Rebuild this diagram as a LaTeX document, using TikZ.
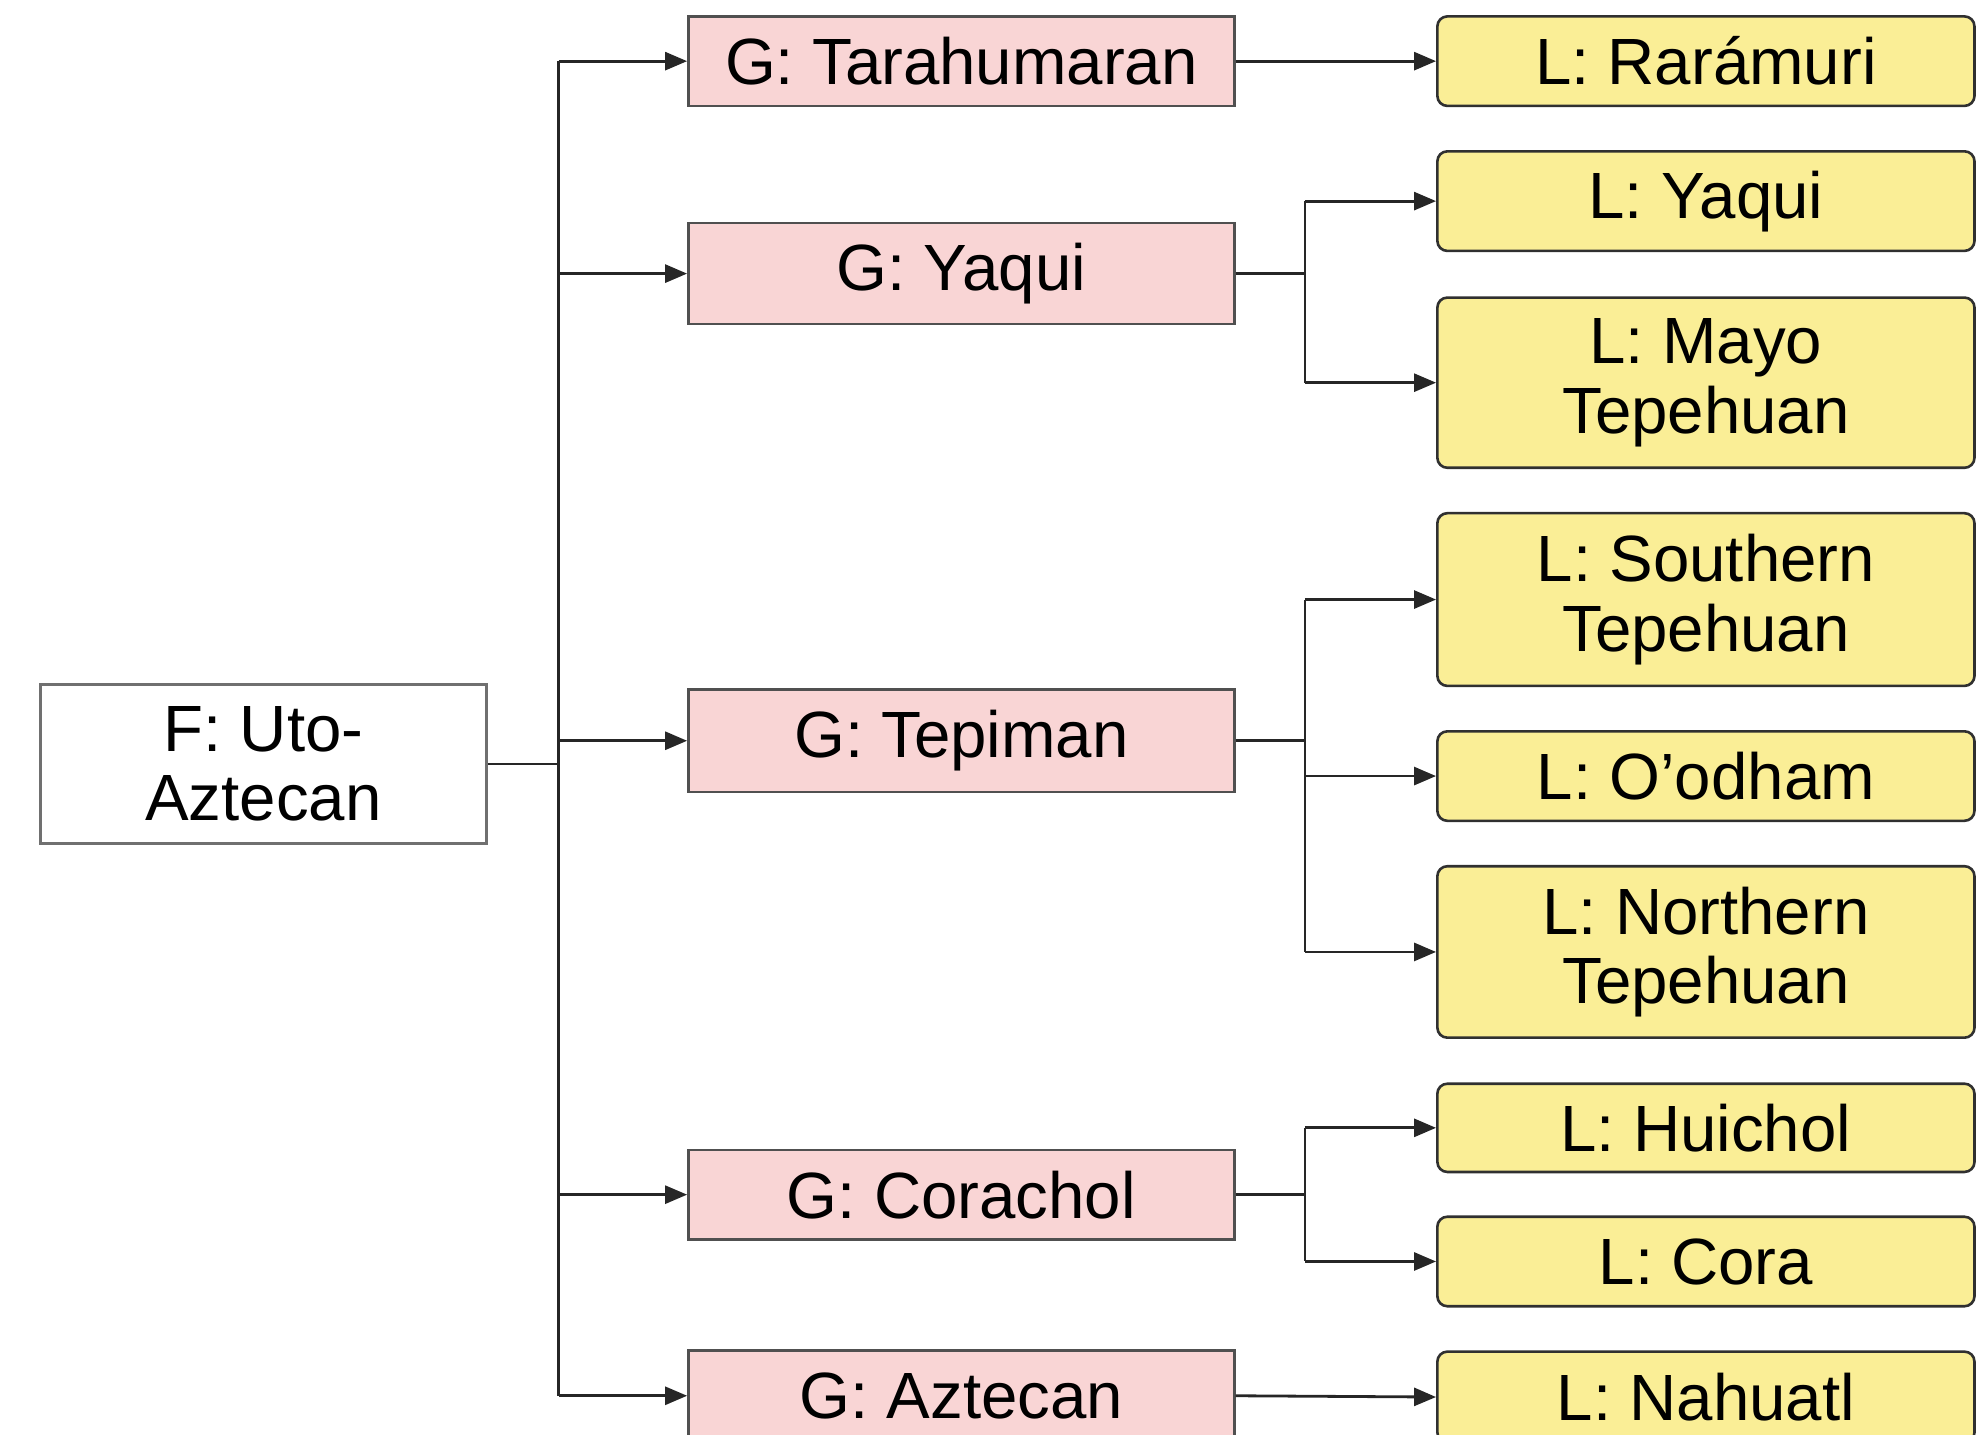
\documentclass[tikz,border=0pt]{standalone}
\usepackage{fontspec}
\setmainfont{Liberation Sans}
\usetikzlibrary{arrows.meta}
\definecolor{pinkc}{HTML}{F9D5D5}
\definecolor{yellowc}{HTML}{FAEE96}
\definecolor{fborder}{HTML}{707070}
\definecolor{gborder}{HTML}{505050}
\definecolor{lborder}{HTML}{303030}
\def\unitpx{0.6304pt}
\begin{document}
\begin{tikzpicture}[x=0.6304pt,y=-0.6304pt,
  every node/.style={font=\fontsize{32.7pt}{34.7pt}\selectfont, align=center, inner sep=0pt},
  fbox/.style={draw=fborder, line width=1.5pt, fill=white, minimum width=354*\unitpx},
  gbox/.style={draw=gborder, line width=1.3pt, fill=pinkc, minimum width=433*\unitpx},
  lbox/.style={draw=lborder, line width=1.3pt, fill=yellowc, rounded corners=5pt, minimum width=426*\unitpx},
  conn/.style={draw=black!85, line width=1.4pt},
  arr/.style={conn, -{Triangle[length=11pt,width=9pt]}}
]
\useasboundingbox (0,0) rectangle (1568,1138);
\clip (0,0) rectangle (1568,1138);
% family
\node[fbox, minimum height=126*\unitpx] (F) at (209,606) {F: Uto-\\Aztecan};
% groups
\node[gbox, minimum height=71*\unitpx] (G1) at (762.5,48.5) {G: Tarahumaran};
\node[gbox, minimum height=80*\unitpx] (G2) at (762.5,217) {G: Yaqui};
\node[gbox, minimum height=81*\unitpx] (G3) at (762.5,587.5) {G: Tepiman};
\node[gbox, minimum height=71*\unitpx] (G4) at (762.5,947.5) {G: Corachol};
\node[gbox, minimum height=72*\unitpx] (G5) at (762.5,1107) {G: Aztecan};
% languages
\node[lbox, minimum height=71*\unitpx] (L1) at (1353,48.5) {L: Rarámuri};
\node[lbox, minimum height=79*\unitpx] (L2) at (1353,159.5) {L: Yaqui};
\node[lbox, minimum height=135*\unitpx] (L3) at (1353,303.5) {L: Mayo\\Tepehuan};
\node[lbox, minimum height=137*\unitpx] (L4) at (1353,475.5) {L: Southern\\Tepehuan};
\node[lbox, minimum height=71*\unitpx] (L5) at (1353,615.5) {L: O’odham};
\node[lbox, minimum height=136*\unitpx] (L6) at (1353,755) {L: Northern\\Tepehuan};
\node[lbox, minimum height=70*\unitpx] (L7) at (1353,894.5) {L: Huichol};
\node[lbox, minimum height=71*\unitpx] (L8) at (1353,1000.5) {L: Cora};
\node[lbox, minimum height=72*\unitpx] (L9) at (1353,1108) {L: Nahuatl};
% branch points
\coordinate (T) at (443,606);
\coordinate (B2) at (1035,217);
\coordinate (B3) at (1035,587.5);
\coordinate (B4) at (1035,947.5);
% family trunk
\draw[conn] (F.east) -- (T);
\draw[conn] (T |- G1.west) -- (T |- G5.west);
\foreach \g in {G1,G2,G3,G4,G5}
  \draw[arr] (T |- \g.west) -- (\g.west);
% level two
\draw[arr] (G1.east) -- (L1.west);
\draw[arr] (G5.east) -- (L9.west);
\draw[conn] (G2.east) -- (B2);
\draw[conn] (B2 |- L2.west) -- (B2 |- L3.west);
\foreach \l in {L2,L3} \draw[arr] (B2 |- \l.west) -- (\l.west);
\draw[conn] (G3.east) -- (B3);
\draw[conn] (B3 |- L4.west) -- (B3 |- L6.west);
\foreach \l in {L4,L5,L6} \draw[arr] (B3 |- \l.west) -- (\l.west);
\draw[conn] (G4.east) -- (B4);
\draw[conn] (B4 |- L7.west) -- (B4 |- L8.west);
\foreach \l in {L7,L8} \draw[arr] (B4 |- \l.west) -- (\l.west);
\end{tikzpicture}
\end{document}
